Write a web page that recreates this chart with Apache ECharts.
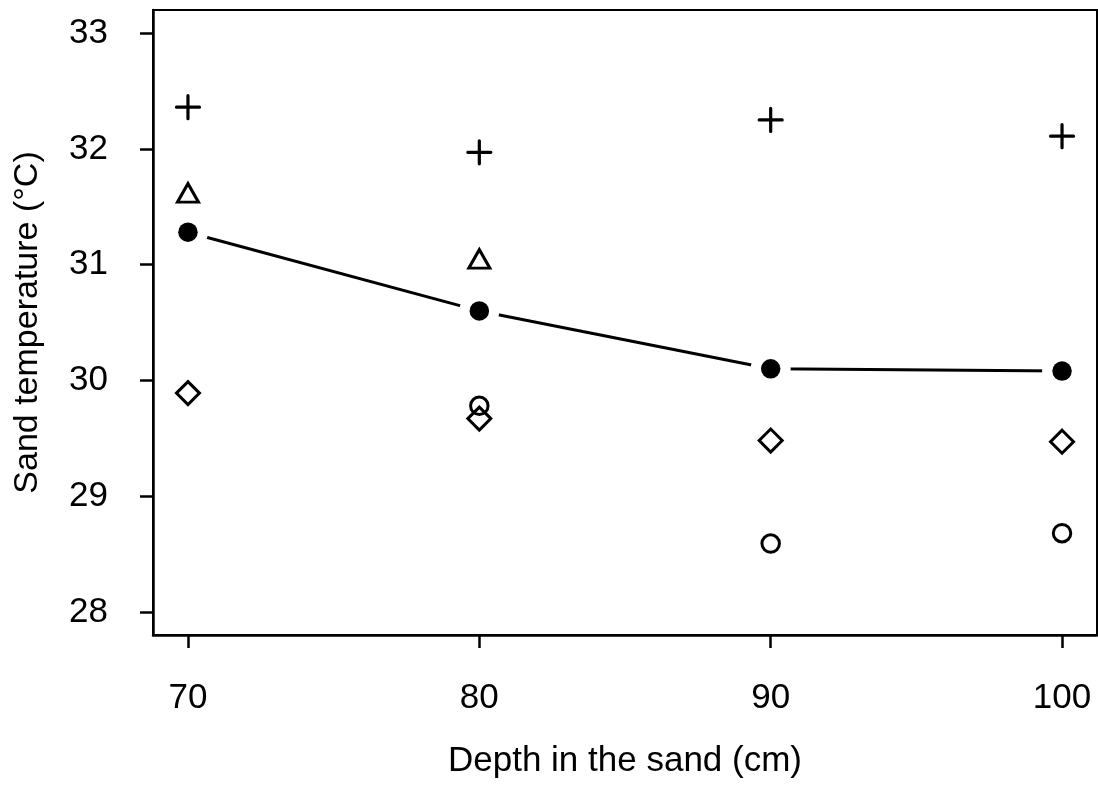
<!DOCTYPE html>
<html>
<head>
<meta charset="utf-8">
<script src="https://cdn.jsdelivr.net/npm/echarts@6/dist/echarts.min.js"></script>
<style>
html,body{margin:0;padding:0;background:#fff;}
#chart{width:1098px;height:785px;}
</style>
</head>
<body>
<div id="chart"></div>
<script>
// Data
const depths = [70, 80, 90, 100];
const plusValues = [32.36, 31.97, 32.25, 32.11];
const triangleValues = [31.59, 31.02, null, null];
const meanValues = [31.28, 30.60, 30.10, 30.08];
const diamondValues = [29.89, 29.67, 29.48, 29.47];
const openCircleValues = [null, 29.78, 28.59, 28.68];
const xTickValues = [70, 80, 90, 100];
const yTickValues = [28, 29, 30, 31, 32, 33];
const xTitle = 'Depth in the sand (cm)';
const yTitle = 'Sand temperature (°C)';

function pairs(vals) {
  const out = [];
  vals.forEach((v, i) => { if (v !== null) out.push([depths[i], v]); });
  return out;
}

const FONT = "'Liberation Sans', Arial, Helvetica, sans-serif";
const chart = echarts.init(document.getElementById('chart'), null, {renderer: 'canvas'});

const openStyle = {color: 'rgba(0,0,0,0)', borderColor: '#000', borderWidth: 3, opacity: 1};

chart.setOption({
  animation: false,
  backgroundColor: '#fff',
  grid: {left: 153, right: 1, top: 10, bottom: 150, show: true, borderColor: '#000', borderWidth: 2, backgroundColor: 'transparent'},
  xAxis: {
    type: 'value', min: 68.8, max: 101.2,
    name: xTitle, nameLocation: 'middle', nameGap: 126,
    nameTextStyle: {fontFamily: FONT, fontSize: 35, color: '#000', verticalAlign: 'middle'},
    axisLine: {show: true, onZero: false, lineStyle: {color: '#000', width: 2.5}},
    axisTick: {show: true, length: 13, lineStyle: {color: '#000', width: 2.5}, customValues: xTickValues},
    axisLabel: {fontFamily: FONT, fontSize: 35, color: '#000', margin: 63, verticalAlign: 'middle', customValues: xTickValues},
    splitLine: {show: false}
  },
  yAxis: {
    type: 'value', min: 27.8, max: 33.2,
    name: yTitle, nameLocation: 'middle', nameGap: 125, nameRotate: 90,
    nameTextStyle: {fontFamily: FONT, fontSize: 34, color: '#000', verticalAlign: 'middle'},
    axisLine: {show: true, onZero: false, lineStyle: {color: '#000', width: 2.5}},
    axisTick: {show: true, length: 13, lineStyle: {color: '#000', width: 2.5}, customValues: yTickValues},
    axisLabel: {fontFamily: FONT, fontSize: 35, color: '#000', margin: 45, customValues: yTickValues},
    splitLine: {show: false}
  },
  series: [
    {
      type: 'line', data: pairs(meanValues), z: 1,
      symbol: 'circle', symbolSize: 40, showSymbol: true,
      itemStyle: {color: '#fff', borderWidth: 0, opacity: 1},
      lineStyle: {color: '#000', width: 3},
      emphasis: {disabled: true}, silent: true
    },
    {
      type: 'scatter', data: pairs(meanValues), z: 3,
      symbol: 'circle', symbolSize: 19.5,
      itemStyle: {color: '#000', opacity: 1}, emphasis: {disabled: true}, silent: true
    },
    {
      type: 'scatter', data: pairs(plusValues), z: 3,
      symbol: 'path://M0,-1L0,1M-1,0L1,0', symbolSize: 23,
      itemStyle: {color: 'rgba(0,0,0,0)', borderColor: '#000', borderWidth: 3.2, borderCap: 'round', opacity: 1},
      emphasis: {disabled: true}, silent: true
    },
    {
      type: 'scatter', data: pairs(triangleValues), z: 3,
      symbol: 'triangle', symbolSize: [21, 18.5], symbolOffset: [0, -3.5],
      itemStyle: openStyle, emphasis: {disabled: true}, silent: true
    },
    {
      type: 'scatter', data: pairs(diamondValues), z: 3,
      symbol: 'diamond', symbolSize: [23, 23],
      itemStyle: openStyle, emphasis: {disabled: true}, silent: true
    },
    {
      type: 'scatter', data: pairs(openCircleValues), z: 3,
      symbol: 'circle', symbolSize: 17.5,
      itemStyle: openStyle, emphasis: {disabled: true}, silent: true
    }
  ]
});
</script>
</body>
</html>
